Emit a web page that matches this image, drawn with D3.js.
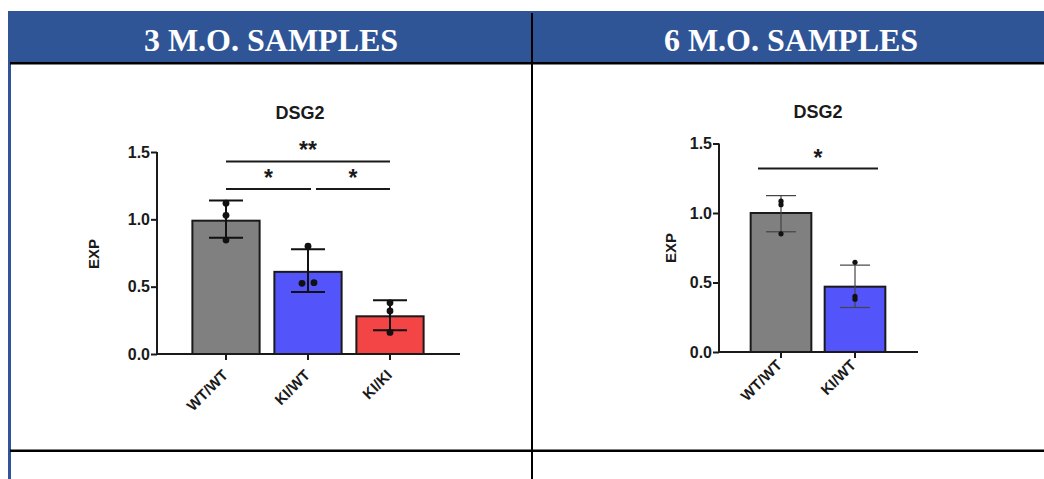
<!DOCTYPE html>
<html><head><meta charset="utf-8">
<script src="https://cdn.jsdelivr.net/npm/d3@7"></script>
<style>body{margin:0;background:#fff}svg{display:block}</style>
</head><body>
<script>
// ---------- data ----------
const headers = ["3 M.O. SAMPLES", "6 M.O. SAMPLES"];
const chartTitles = ["DSG2", "DSG2"];
const yTicks = [0, 0.5, 1.0, 1.5];
const yLabel = "EXP";

// 3 months
const cats3 = ["WT/WT", "KI/WT", "KI/KI"];
const means3 = [0.99, 0.61, 0.28];
const errHi3 = [1.14, 0.777, 0.40];
const errLo3 = [0.863, 0.46, 0.176];
const points3 = [[1.12, 1.03, 0.846], [0.80, 0.525, 0.53], [0.38, 0.32, 0.16]];
const sig3 = [
  {a: "WT/WT", b: "KI/KI", y: 1.43, label: "**"},
  {a: "WT/WT", b: "KI/WT", y: 1.225, label: "*"},
  {a: "KI/WT", b: "KI/KI", y: 1.225, label: "*"}
];

// 6 months
const cats6 = ["WT/WT", "KI/WT"];
const means6 = [1.0, 0.47];
const errHi6 = [1.125, 0.625];
const errLo6 = [0.865, 0.32];
const points6 = [[1.085, 1.06, 0.85], [0.645, 0.40, 0.38]];
const sig6 = [{a: "WT/WT", b: "KI/WT", y: 1.32, label: "*"}];

const barColors = {"WT/WT": "#808080", "KI/WT": "#5454fb", "KI/KI": "#f34545"};

// ---------- drawing ----------
const W = 1044, H = 479;
const svg = d3.select("body").append("svg").attr("width", W).attr("height", H);
const ink = "#1a1a1a";
const sans = "'Liberation Sans', Arial, sans-serif";

// table frame
svg.append("rect").attr("x", 8).attr("y", 11).attr("width", W - 8).attr("height", 52).attr("fill", "#2F5597");
svg.append("rect").attr("x", 8).attr("y", 62).attr("width", 3).attr("height", H - 62).attr("fill", "#2F5597");
svg.append("rect").attr("x", 10).attr("y", 62).attr("width", W - 10).attr("height", 2.5).attr("fill", "#000");
svg.append("rect").attr("x", 10).attr("y", 449.5).attr("width", W - 10).attr("height", 2.5).attr("fill", "#000");
svg.append("rect").attr("x", 531).attr("y", 13).attr("width", 2).attr("height", H - 13).attr("fill", "#000");

const headerX = [271, 791];
headers.forEach((h, i) => {
  svg.append("text").attr("x", headerX[i]).attr("y", 51).attr("text-anchor", "middle")
    .attr("font-family", "'Liberation Serif', 'Times New Roman', serif").attr("font-weight", "bold")
    .attr("font-size", 32).attr("fill", "#fff").text(h);
});

function drawChart(cfg) {
  const g = svg.append("g");
  const x = d3.scaleBand().domain(cfg.cats).range(cfg.bandRange).paddingInner(0.18).paddingOuter(0.09);
  const y = d3.scaleLinear().domain([0, 1.5]).range(cfg.yRange);
  const cx = c => x(c) + x.bandwidth() / 2;

  // title
  g.append("text").attr("x", cfg.titlePos[0]).attr("y", cfg.titlePos[1]).attr("text-anchor", "middle")
    .attr("font-family", sans).attr("font-weight", "bold").attr("font-size", 18).attr("fill", ink).text(cfg.title);

  // y label
  g.append("text").attr("transform", `translate(${cfg.yLabelPos[0]},${cfg.yLabelPos[1]}) rotate(-90)`)
    .attr("text-anchor", "middle").attr("dominant-baseline", "central")
    .attr("font-family", sans).attr("font-weight", "bold").attr("font-size", 15).attr("fill", ink).text(yLabel);

  // bars
  cfg.cats.forEach((c, i) => {
    g.append("rect").attr("x", x(c)).attr("y", y(cfg.means[i])).attr("width", x.bandwidth())
      .attr("height", y(0) - y(cfg.means[i])).attr("fill", barColors[c])
      .attr("stroke", ink).attr("stroke-width", 2);
  });

  // error bars
  cfg.cats.forEach((c, i) => {
    const xc = cx(c);
    const e = g.append("g").attr("stroke", cfg.errColor).attr("stroke-width", cfg.errWidth);
    e.append("line").attr("x1", xc).attr("x2", xc).attr("y1", y(cfg.hi[i])).attr("y2", y(cfg.lo[i]));
    [cfg.hi[i], cfg.lo[i]].forEach(v => {
      e.append("line").attr("x1", xc - cfg.cap).attr("x2", xc + cfg.cap).attr("y1", y(v)).attr("y2", y(v));
    });
  });

  // points
  cfg.cats.forEach((c, i) => {
    const pts = cfg.points[i];
    pts.forEach((v, j) => {
      let off = 0;
      if (cfg.jitter) {
        const close = pts.findIndex((w, k) => k !== j && Math.abs(w - v) < 0.05);
        if (close >= 0) off = (j < close ? -1 : 1) * cfg.jitter;
      }
      g.append("circle").attr("cx", cx(c) + off).attr("cy", y(v)).attr("r", cfg.r).attr("fill", "#111");
    });
  });

  // axes
  const yAxis = d3.axisLeft(y).tickValues(yTicks).tickFormat(d3.format(".1f")).tickSize(6).tickPadding(1);
  const ya = g.append("g").attr("transform", `translate(${cfg.yAxisX},0)`).call(yAxis);
  ya.attr("font-size", null).attr("font-family", null);
  ya.select(".domain").attr("d", `M0,${y(1.5)}V${y(0)}`).attr("stroke", ink).attr("stroke-width", 2);
  ya.selectAll(".tick line").attr("stroke", ink).attr("stroke-width", 2);
  ya.selectAll(".tick text").attr("font-family", sans).attr("font-weight", "bold").attr("font-size", 16).attr("fill", ink);

  const xAxis = d3.axisBottom(x).tickSize(6).tickPadding(0);
  const xa = g.append("g").attr("transform", `translate(0,${y(0)})`).call(xAxis);
  xa.attr("font-size", null).attr("font-family", null);
  xa.select(".domain").attr("d", `M${cfg.yAxisX - 1},0H${cfg.xAxisEnd}`).attr("stroke", ink).attr("stroke-width", 2);
  xa.selectAll(".tick line").attr("stroke", ink).attr("stroke-width", 2);
  xa.selectAll(".tick text").attr("font-family", sans).attr("font-weight", "bold").attr("font-size", 15).attr("fill", ink)
    .attr("text-anchor", "end").attr("dy", null).attr("y", null)
    .attr("transform", `translate(${cfg.xLabelOff[0]},${cfg.xLabelOff[1]}) rotate(-45)`);

  // significance
  const n = cfg.cats.length;
  cfg.sig.forEach(s => {
    const ia = cfg.cats.indexOf(s.a), ib = cfg.cats.indexOf(s.b);
    let x0 = cx(s.a) - cfg.sigExt, x1 = cx(s.b) + cfg.sigExt;
    if (!cfg.sigExt) {
      if (ia > 0) x0 += 8;
      if (ib < n - 1) x1 += 3;
    }
    const yy = y(s.y);
    g.append("line").attr("x1", x0).attr("x2", x1).attr("y1", yy).attr("y2", yy)
      .attr("stroke", ink).attr("stroke-width", 2);
    g.append("text").attr("x", (x0 + x1) / 2).attr("y", yy - 3).attr("text-anchor", "middle")
      .attr("font-family", sans).attr("font-weight", "bold").attr("font-size", 23).attr("fill", ink).text(s.label);
  });
}

drawChart({
  cats: cats3, means: means3, hi: errHi3, lo: errLo3, points: points3, sig: sig3,
  title: chartTitles[0], titlePos: [300, 119], yLabelPos: [93, 254],
  bandRange: [185, 431], yRange: [354, 152], yAxisX: 157, xAxisEnd: 460,
  xLabelOff: [3, 22], errColor: "#111", errWidth: 2, cap: 17, r: 3.4, jitter: 6, sigExt: 0
});

drawChart({
  cats: cats6, means: means6, hi: errHi6, lo: errLo6, points: points6, sig: sig6,
  title: chartTitles[1], titlePos: [818, 118], yLabelPos: [670, 248],
  bandRange: [744, 892], yRange: [352, 143.5], yAxisX: 719, xAxisEnd: 918,
  xLabelOff: [2, 14], errColor: "#444", errWidth: 1.2, cap: 15, r: 2.6, jitter: 0, sigExt: 23
});
</script>
</body></html>
